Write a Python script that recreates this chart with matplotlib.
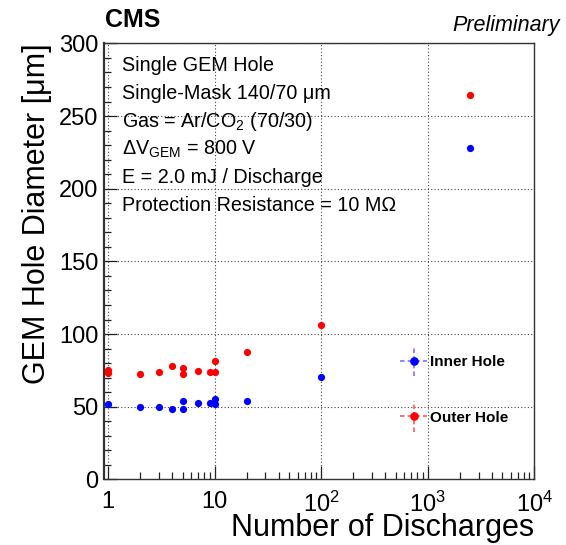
import matplotlib
matplotlib.use("Agg")
import matplotlib.pyplot as plt
from matplotlib.ticker import FixedLocator, FuncFormatter, MultipleLocator, LogLocator, NullFormatter
from matplotlib.legend_handler import HandlerErrorbar

plt.rcParams['font.family'] = ['Liberation Sans', 'DejaVu Sans']
plt.rcParams['mathtext.fontset'] = 'custom'
plt.rcParams['mathtext.rm'] = 'Liberation Sans'
plt.rcParams['mathtext.it'] = 'Liberation Sans:italic'
plt.rcParams['mathtext.bf'] = 'Liberation Sans:bold'

# ---- data ----
inner_x = [1, 2, 3, 4, 5, 5, 7, 9, 10, 10, 20, 100, 2500]
inner_y = [51.7, 49.6, 49.6, 48.2, 53.7, 48.2, 52.4, 52.4, 55.3, 51.7, 54.2, 70.3, 228.0]
outer_x = [1, 1, 2, 3, 4, 5, 5, 7, 9, 10, 10, 20, 100, 2500]
outer_y = [75.5, 73.4, 72.3, 73.7, 77.8, 76.4, 72.5, 74.4, 73.7, 74.1, 81.7, 87.7, 105.9, 264.3]

series_labels = ["Inner Hole", "Outer Hole"]
x_ticks = [1, 10, 100, 1000, 10000]
x_tick_labels = ["1", "10", r"$10^{2}$", r"$10^{3}$", r"$10^{4}$"]
y_ticks = [0, 50, 100, 150, 200, 250, 300]
info_lines = [
    "Single GEM Hole",
    "Single-Mask 140/70 \u03bcm",
    r"Gas = Ar/CO$_{2}$ (70/30)",
    r"$\Delta$V$_{\rm GEM}$ = 800 V",
    "E = 2.0 mJ / Discharge",
    "Protection Resistance = 10 M\u03a9",
]

W, H = 566, 545
fig = plt.figure(figsize=(W / 100, H / 100), dpi=100)
L, R, T, B = 104, 534.3, 43.4, 479.4
ax = fig.add_axes([L / W, 1 - B / H, (R - L) / W, (B - T) / H])

ax.set_xscale('log')
ax.set_xlim(0.917, 10000)
ax.set_ylim(0, 300)

ax.plot(inner_x, inner_y, 'o', color='#0000ff', markersize=5.2, markeredgewidth=0, zorder=3)
ax.plot(outer_x, outer_y, 'o', color='#ff0000', markersize=5.2, markeredgewidth=0, zorder=3)

# legend proxies (no data)
h_in = ax.errorbar([], [], xerr=[], yerr=[], fmt='o', color='#0000ff', ecolor='#6a6aff',
                   markersize=5.2, elinewidth=1.1, label=series_labels[0])
h_out = ax.errorbar([], [], xerr=[], yerr=[], fmt='o', color='#ff0000', ecolor='#ff5050',
                    markersize=5.2, elinewidth=1.1, label=series_labels[1])
for h in (h_in, h_out):
    for lc in h[2]:
        lc.set_linestyle((0, (3, 2)))

leg = ax.legend(handles=[h_in, h_out], loc='center left',
                bbox_to_anchor=((400 - L) / (R - L), (B - 390) / (B - T)),
                frameon=False, prop={'weight': 'bold', 'size': 11},
                labelspacing=2.7, handlelength=1.78, handletextpad=0.2, borderpad=0,
                borderaxespad=0,
                handler_map={type(h_in): HandlerErrorbar(xerr_size=0.88, yerr_size=1.0)})

# ticks and grid
ax.xaxis.set_major_locator(FixedLocator(x_ticks))
ax.xaxis.set_major_formatter(FuncFormatter(lambda v, p: x_tick_labels[x_ticks.index(v)] if v in x_ticks else ""))
ax.xaxis.set_minor_locator(LogLocator(base=10, subs=range(2, 10)))
ax.xaxis.set_minor_formatter(NullFormatter())
ax.yaxis.set_major_locator(FixedLocator(y_ticks))
ax.yaxis.set_minor_locator(MultipleLocator(10))

ax.tick_params(axis='both', which='both', direction='in', colors='#222222', labelcolor='black')
ax.tick_params(axis='both', which='major', length=9.5, width=0.9, labelsize=17)
ax.tick_params(axis='both', which='minor', length=4.7, width=0.9)
ax.tick_params(axis='x', which='major', pad=8.5)
ax.tick_params(axis='y', which='major', pad=4)
ax.tick_params(top=False, right=False)

ax.grid(True, which='major', linestyle=(0, (1, 2)), color='#444444', linewidth=0.8)
ax.set_axisbelow(True)
for s in ax.spines.values():
    s.set_color('#333333')
    s.set_linewidth(1.0)
ax.spines['left'].set_linewidth(1.6)

ax.set_xlabel("Number of Discharges", fontsize=22, loc='right', labelpad=-2.6)
ax.set_ylabel("GEM Hole Diameter [\u03bcm]", fontsize=22, loc='top', labelpad=5)

# info text
y0 = 66
dy = 27.9
for i, line in enumerate(info_lines):
    ypx = y0 + i * dy
    ax.text((122 - L) / (R - L), (B - ypx) / (B - T), line, transform=ax.transAxes,
            fontsize=14.2, va='center', ha='left')

fig.text(105 / W, 1 - 20 / H, "CMS", fontsize=18, fontweight='bold', va='center', ha='left')
fig.text(560 / W, 1 - 26 / H, "Preliminary", fontsize=15.5, style='italic', va='center', ha='right')

fig.savefig("out.png", dpi=100)
